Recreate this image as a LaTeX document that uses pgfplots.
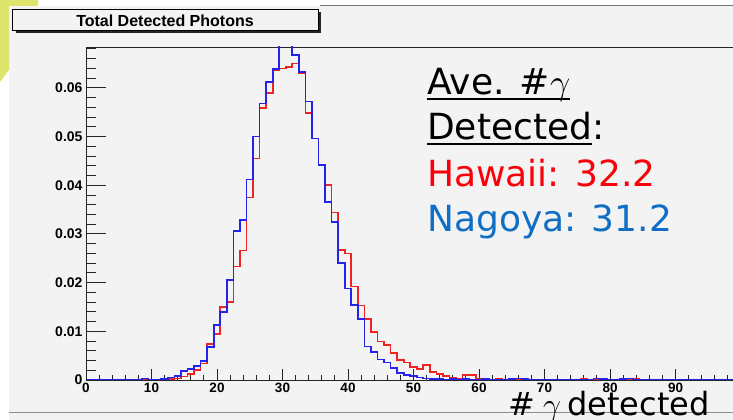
\RequirePackage{fix-cm}
\documentclass[border=0pt]{standalone}
\usepackage{fontspec}
\setmainfont{Liberation Sans}
\newfontfamily\dv{DejaVu Sans}
\usepackage{pgfplots}
\usepackage{pgfplotstable}
\pgfplotsset{compat=1.18}
\definecolor{bgc}{RGB}{243,243,243}
\definecolor{ylw}{RGB}{222,228,108}
\definecolor{histred}{RGB}{240,35,35}
\definecolor{histblue}{RGB}{35,35,235}
\definecolor{txtred}{RGB}{250,0,10}
\definecolor{txtblue}{RGB}{16,110,196}
\newcommand\ul[1]{\setbox0\hbox{#1}\rlap{\rule[-5pt]{\wd0}{1.6pt}}\box0}

\pgfplotstableread{
x y
0 0
1 0
2 0
3 0
4 0
5 0
6 0
7 0
8 0
9 0
10 0
11 0
12 0.0001
13 0.0002
14 0.0003
15 0.0007
16 0.0012
17 0.0021
18 0.0034
19 0.0074
20 0.0095
21 0.0150
22 0.0160
23 0.0233
24 0.0266
25 0.0375
26 0.0455
27 0.0559
28 0.0589
29 0.0637
30 0.0640
31 0.0643
32 0.0650
33 0.0630
34 0.0549
35 0.0496
36 0.0441
37 0.0400
38 0.0344
39 0.0267
40 0.0260
41 0.0192
42 0.0153
43 0.0125
44 0.0099
45 0.0079
46 0.0072
47 0.0055
48 0.0041
49 0.0036
50 0.0026
51 0.0022
52 0.0031
53 0.0017
54 0.0012
55 0.0008
56 0.0005
57 0.0003
58 0.0010
59 0.0010
60 0.0002
61 0.0003
62 0.0001
63 0.0003
64 0.0001
65 0
66 0.0001
67 0.0002
68 0.0001
69 0
70 0.0001
71 0
72 0.0001
73 0
74 0
75 0
76 0.0002
77 0
78 0
79 0
80 0
81 0
82 0
83 0
84 0.0002
85 0.0001
86 0
87 0
88 0
89 0
90 0
91 0
92 0
93 0
94 0
95 0
96 0
97 0
98 0
99 0
100 0
}\hawaii

\pgfplotstableread{
x y
0 0
1 0
2 0
3 0.0001
4 0
5 0
6 0
7 0
8 0
9 0.0003
10 0.0001
11 0
12 0.0002
13 0.0005
14 0.0008
15 0.0018
16 0.0022
17 0.0029
18 0.0039
19 0.0068
20 0.0113
21 0.0140
22 0.0205
23 0.0306
24 0.0329
25 0.0412
26 0.0500
27 0.0568
28 0.0612
29 0.0639
30 0.0705
31 0.0712
32 0.0667
33 0.0632
34 0.0572
35 0.0496
36 0.0441
37 0.0366
38 0.0325
39 0.0240
40 0.0188
41 0.0154
42 0.0125
43 0.0069
44 0.0058
45 0.0042
46 0.0036
47 0.0024
48 0.0015
49 0.0010
50 0.0008
51 0.0005
52 0.0003
53 0.0002
54 0.0002
55 0.0001
56 0.0002
57 0.0001
58 0.0002
59 0.0001
60 0.0001
61 0.0002
62 0
63 0.0001
64 0.0001
65 0.0002
66 0.0003
67 0.0002
68 0.0001
69 0
70 0.0001
71 0
72 0.0001
73 0
74 0
75 0.0001
76 0
77 0
78 0.0003
79 0.0002
80 0.0001
81 0
82 0.0002
83 0.0003
84 0.0001
85 0
86 0
87 0.0001
88 0
89 0
90 0
91 0.0001
92 0
93 0
94 0
95 0
96 0
97 0
98 0
99 0
100 0
}\nagoya

\begin{document}
\begin{tikzpicture}[x=1pt,y=1pt]
\path[use as bounding box] (0pt,0pt) rectangle (733pt,420pt);
\fill[white] (0pt,0pt) rectangle (733pt,420pt);
\fill[bgc] (9pt,0pt) rectangle (733pt,414pt);
\fill[ylw] (0pt,420pt) -- (38pt,420pt) -- (38pt,414pt) -- (9pt,414pt) -- (9pt,350pt) -- (0pt,338pt) -- cycle;
\draw[black!45, line width=1pt] (9pt,7pt) -- (733pt,7pt);
\draw[black!55, line width=1pt] (320pt,414pt) -- (733pt,414pt);
% title box
\fill[black!85] (15.5pt,386.5pt) rectangle (321pt,408pt);
\filldraw[fill=bgc, draw=black, line width=0.8pt] (12.7pt,389.3pt) rectangle (318pt,410.7pt);
\node[font=\bfseries\fontsize{16}{18}\selectfont, anchor=base, inner sep=0pt] at (165pt,393.3pt) {Total Detected Photons};

\begin{axis}[
  at={(86pt,40pt)}, anchor=south west, scale only axis,
  width=655pt, height=333pt,
  xmin=0, xmax=100, ymin=0, ymax=0.0684,
  axis line style={draw=black!85, line width=0.9pt},
  xtick={0,10,...,90},
  minor xtick={2,4,6,8,12,14,16,18,22,24,26,28,32,34,36,38,42,44,46,48,52,54,56,58,62,64,66,68,72,74,76,78,82,84,86,88,92,94,96,98},
  ytick=\empty,
  xtick pos=left, tick align=inside,
  major tick length=11pt, minor tick length=4.5pt,
  tick style={black!85, line width=0.9pt},
  /pgf/number format/assume math mode=true,
  xticklabel style={font=\bfseries\fontsize{13.5}{14}\selectfont, inner sep=2.5pt},
]
\addplot[const plot mark mid, draw=histred, line width=1.7pt] table[x=x,y=y]{\hawaii};
\addplot[const plot mark mid, draw=histblue, line width=1.7pt] table[x=x,y=y]{\nagoya};
\end{axis}

\begin{axis}[
  at={(86pt,40pt)}, anchor=south west, scale only axis,
  width=655pt, height=333pt,
  xmin=0, xmax=100, ymin=0, ymax=0.0684,
  hide x axis,
  axis line style={draw=black!85, line width=0.9pt},
  ytick={0,0.01,0.02,0.03,0.04,0.05,0.06},
  minor ytick={0.002,0.004,0.006,0.008,0.012,0.014,0.016,0.018,0.022,0.024,0.026,0.028,0.032,0.034,0.036,0.038,0.042,0.044,0.046,0.048,0.052,0.054,0.056,0.058,0.062,0.064,0.066,0.068},
  ytick pos=left, tick align=inside,
  major tick length=20pt, minor tick length=10pt,
  tick style={black!85, line width=0.9pt},
  scaled y ticks=false,
  /pgf/number format/assume math mode=true,
  yticklabel style={font=\bfseries\fontsize{14}{15}\selectfont, /pgf/number format/fixed, /pgf/number format/precision=2},
]
\end{axis}

% annotation
\begin{scope}[every node/.style={anchor=base west, inner sep=0pt, font=\dv\fontsize{36}{40}\selectfont}]
\node at (427pt,325pt) {\ul{Ave. \#$\gamma$}};
\node at (427pt,280pt) {\ul{Detected}:};
\node[text=txtred] at (427pt,233.3pt) {Hawaii: 32.2};
\node[text=txtblue] at (427pt,188.3pt) {Nagoya: 31.2};
\end{scope}
\node[anchor=base west, inner sep=0pt, font=\dv\fontsize{32}{36}\selectfont] at (508pt,4.5pt) {\#\hspace{0.25em}$\gamma$\hspace{0.2em}detected};
\end{tikzpicture}
\end{document}
